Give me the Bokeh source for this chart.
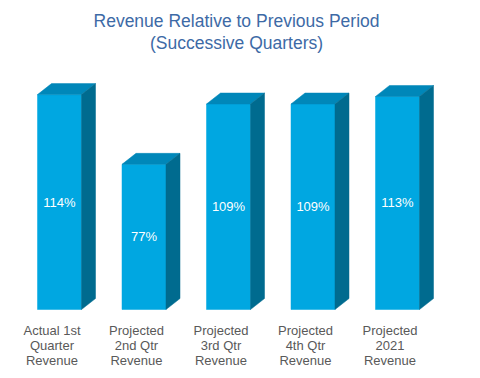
from bokeh.plotting import figure
from bokeh.embed import file_html
from bokeh.resources import INLINE
from bokeh.core.properties import value

# ---- data ----
categories = ["Actual 1st Quarter Revenue", "Projected 2nd Qtr Revenue",
              "Projected 3rd Qtr Revenue", "Projected 4th Qtr Revenue",
              "Projected 2021 Revenue"]
cat_line1 = ["Actual 1st", "Projected", "Projected", "Projected", "Projected"]
cat_line2 = ["Quarter", "2nd Qtr", "3rd Qtr", "4th Qtr", "2021"]
cat_line3 = ["Revenue", "Revenue", "Revenue", "Revenue", "Revenue"]
values = [114, 77, 109, 109, 113]
value_labels = ["114%", "77%", "109%", "109%", "113%"]
title_lines = ["Revenue Relative to Previous Period", "(Successive Quarters)"]

# ---- layout constants ----
W, H = 472, 370
px_per_x = 84.5
px_per_y = 1.885
zero_px = 309
x_start = -59 / px_per_x
x_end = x_start + W / px_per_x
y_end = zero_px / px_per_y
y_start = -(H - zero_px) / px_per_y

bw = 44 / px_per_x
dx = 14 / px_per_x
dy = 11 / px_per_y
label_shift = -7.5 / px_per_x

FRONT = "#00A7E1"
TOP = "#0087B9"
SIDE = "#006B8F"
FONT = "Liberation Sans"

p = figure(width=W, height=H, x_range=(x_start, x_end), y_range=(y_start, y_end),
           output_backend="svg", toolbar_location=None, min_border=0,
           background_fill_color="white", border_fill_color="white")
p.axis.visible = False
p.grid.visible = False
p.outline_line_color = None

xs = list(range(len(values)))

# front faces
p.quad(left=[x - bw / 2 for x in xs], right=[x + bw / 2 for x in xs],
       bottom=[0] * len(xs), top=values, fill_color=FRONT, line_color=FRONT, line_width=0.5)

# top faces
top_xs = [[x - bw / 2, x - bw / 2 + dx, x + bw / 2 + dx, x + bw / 2] for x in xs]
top_ys = [[v, v + dy, v + dy, v] for v in values]
p.patches(top_xs, top_ys, fill_color=TOP, line_color=TOP, line_width=0.5)

# side faces
side_xs = [[x + bw / 2, x + bw / 2 + dx, x + bw / 2 + dx, x + bw / 2] for x in xs]
side_ys = [[0, dy, v + dy, v] for v in values]
p.patches(side_xs, side_ys, fill_color=SIDE, line_color=SIDE, line_width=0.5)

# value labels
p.text(x=xs, y=[v / 2 for v in values], text=value_labels, text_color="white",
       text_font=value(FONT), text_font_size="13px", text_align="center",
       text_baseline="middle")

# category labels
for i, lines in enumerate([cat_line1, cat_line2, cat_line3]):
    yy = -(21 + 15 * i) / px_per_y
    p.text(x=[x + label_shift for x in xs], y=[yy] * len(xs), text=lines,
           text_color="#595959", text_font=value(FONT), text_font_size="13px",
           text_align="center", text_baseline="middle")

# title
tx = x_start + 236 / px_per_x
for i, t in enumerate(title_lines):
    ty = (zero_px - (20 + 22 * i)) / px_per_y
    p.text(x=[tx], y=[ty], text=[t], text_color="#3D6AA6",
           text_font=value(FONT), text_font_size="17.5px", text_align="center",
           text_baseline="middle")

open("out.html", "w").write(file_html(p, INLINE))
